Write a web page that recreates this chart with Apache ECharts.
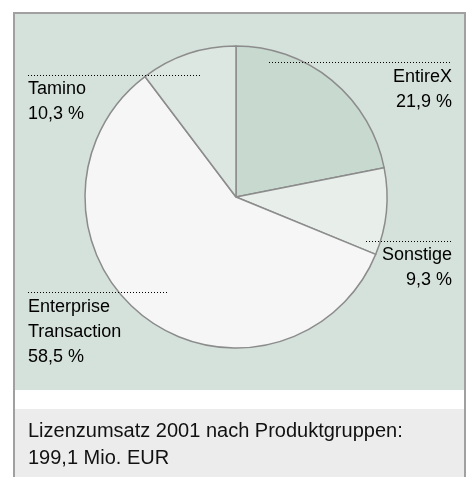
<!DOCTYPE html>
<html><head><meta charset="utf-8">
<script src="https://cdn.jsdelivr.net/npm/echarts@6/dist/echarts.min.js"></script>
<style>html,body{margin:0;padding:0;background:#fff}#c{width:472px;height:477px}</style>
</head><body><div id="c"></div>
<script>
const categories = ['EntireX', 'Sonstige', 'Enterprise\nTransaction', 'Tamino'];
const values = [21.9, 9.3, 58.5, 10.3];
const valueLabels = ['21,9 %', '9,3 %', '58,5 %', '10,3 %'];
const sliceColors = ['#c8d9d0', '#e8eeea', '#f6f6f6', '#dde7e1'];
const captionLines = ['Lizenzumsatz 2001 nach Produktgruppen:', '199,1 Mio. EUR'];

const chart = echarts.init(document.getElementById('c'), null, {renderer: 'canvas'});
const FONT = '"Liberation Sans", Arial, sans-serif';

// label placement: [lineX1, lineX2, lineY, textX, textTop, align]
const labelPlace = [
  [269, 452, 62, 452, 65, 'right'],
  [366, 452, 241, 452, 243, 'right'],
  [28, 168, 292, 28, 295, 'left'],
  [28, 202, 75, 28, 77, 'left']
];

const graphics = [
  {type: 'rect', z: 0, shape: {x: 14, y: 13, width: 451, height: 470},
   style: {fill: '#ececec', stroke: '#a0a0a0', lineWidth: 2}},
  {type: 'rect', z: 1, shape: {x: 15, y: 14, width: 449, height: 376}, style: {fill: '#d5e2db'}},
  {type: 'rect', z: 1, shape: {x: 15, y: 390, width: 449, height: 19}, style: {fill: '#ffffff'}},
  {type: 'text', z: 5, x: 28, y: 418,
   style: {text: captionLines.join('\n'), font: '20px ' + FONT, fill: '#111', lineHeight: 27, textVerticalAlign: 'top'}}
];
categories.forEach((c, i) => {
  const p = labelPlace[i];
  graphics.push({type: 'line', z: 5, shape: {x1: p[0], y1: p[2] + 0.5, x2: p[1], y2: p[2] + 0.5},
    style: {stroke: '#000', lineWidth: 1.2, lineDash: [1, 2]}});
  graphics.push({type: 'text', z: 5, x: p[3], y: p[4],
    style: {text: c + '\n' + valueLabels[i], font: '18px ' + FONT, fill: '#000', lineHeight: 25,
            textAlign: p[5], textVerticalAlign: 'top'}});
});

chart.setOption({
  animation: false,
  graphic: {elements: graphics},
  series: [{
    type: 'pie', z: 3,
    center: [236, 197], radius: 151,
    startAngle: 90, clockwise: true,
    label: {show: false}, labelLine: {show: false},
    emphasis: {disabled: true},
    itemStyle: {borderColor: '#8c8c8c', borderWidth: 1.5},
    data: categories.map((c, i) => ({name: c, value: values[i], itemStyle: {color: sliceColors[i]}}))
  }]
});
</script></body></html>
